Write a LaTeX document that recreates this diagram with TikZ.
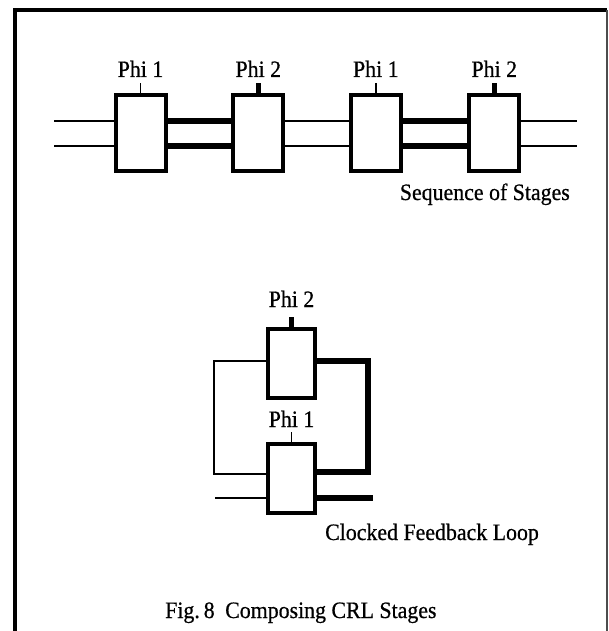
\documentclass[tikz,border=0pt]{standalone}
\usepackage{fontspec}
\setmainfont{Liberation Serif}[FakeBold=0.6,FakeStretch=0.93]
\begin{document}
\begin{tikzpicture}[x=1pt,y=-1pt,
  every node/.style={font=\fontsize{23.5}{28}\selectfont},
  stagebox/.style={draw,line width=4pt,inner sep=0pt,minimum width=50pt,minimum height=76pt},
  loopbox/.style={draw,line width=4pt,inner sep=0pt,minimum width=47pt,minimum height=69pt},
  lbl/.style={anchor=base,inner sep=0pt},
  thinwire/.style={line width=1.8pt},
  thickwire/.style={line width=6pt},
  thintick/.style={line width=1.6pt},
  thicktick/.style={line width=5pt},
  frame/.style={line width=4pt}]
\useasboundingbox (0,0) rectangle (609,631);
% frame
\draw[frame] (15,631) -- (15,10) -- (607,10);
\draw[line width=1.5pt,black!70] (607,10) -- (607,631);

% ---------- sequence of stages ----------
\node[stagebox] (b1) at (140.5,133) {};
\node[stagebox] (b2) at (258.3,133) {};
\node[stagebox] (b3) at (375.8,133) {};
\node[stagebox] (b4) at (494.3,133) {};
\node[lbl] (p1) at (140.5,77) {Phi 1};
\node[lbl] (p2) at (258.3,77) {Phi 2};
\node[lbl] (p3) at (375.8,77) {Phi 1};
\node[lbl] (p4) at (494.3,77) {Phi 2};
\draw[thintick] (b1.north) -- ++(0,-10);
\draw[thicktick] (b2.north) -- ++(0,-10);
\draw[thintick] (b3.north) -- ++(0,-10);
\draw[thicktick] (b4.north) -- ++(0,-10);
\coordinate (inU) at (54,121);
\coordinate (inL) at (54,146);
\coordinate (outU) at (577,121);
\coordinate (outL) at (577,146);
\draw[thinwire] (inU) -- (inU -| b1.west);
\draw[thinwire] (inL) -- (inL -| b1.west);
\draw[thickwire] (inU -| b1.east) -- (inU -| b2.west);
\draw[thickwire] (inL -| b1.east) -- (inL -| b2.west);
\draw[thinwire] (inU -| b2.east) -- (inU -| b3.west);
\draw[thinwire] (inL -| b2.east) -- (inL -| b3.west);
\draw[thickwire] (inU -| b3.east) -- (inU -| b4.west);
\draw[thickwire] (inL -| b3.east) -- (inL -| b4.west);
\draw[thinwire] (outU -| b4.east) -- (outU);
\draw[thinwire] (outL -| b4.east) -- (outL);
\node[anchor=base east,inner sep=0pt] (seq) at (570,200) {Sequence of Stages};

% ---------- clocked feedback loop ----------
\node[loopbox] (u) at (291.5,363) {};
\node[loopbox] (l) at (291.5,478.5) {};
\node[lbl] (pu) at (291.5,307) {Phi 2};
\node[lbl] (pl) at (291.5,427) {Phi 1};
\draw[thicktick] (u.north) -- ++(0,-10);
\draw[thintick] (l.north) -- ++(0,-10);
\coordinate (lt) at (214,361);
\coordinate (lb) at (214,474);
\coordinate (rt) at (368,361);
\coordinate (rb) at (368,472);
\coordinate (fin) at (215,498);
\coordinate (fout) at (373,498);
\draw[thinwire] (lt -| u.west) -- (lt) -- (lb) -- (lb -| l.west);
\draw[thickwire] (rt -| u.east) -- (rt) -- (rb) -- (rb -| l.east);
\draw[thinwire] (fin) -- (fin -| l.west);
\draw[thickwire] (fout -| l.east) -- (fout);
\node[anchor=base west,inner sep=0pt] (cfl) at (325,540) {Clocked Feedback Loop};

% caption
\node[anchor=base west,inner sep=0pt] (cap) at (165,618) {Fig.\,8\hspace{0.45em}Composing CRL Stages};
\end{tikzpicture}
\end{document}
